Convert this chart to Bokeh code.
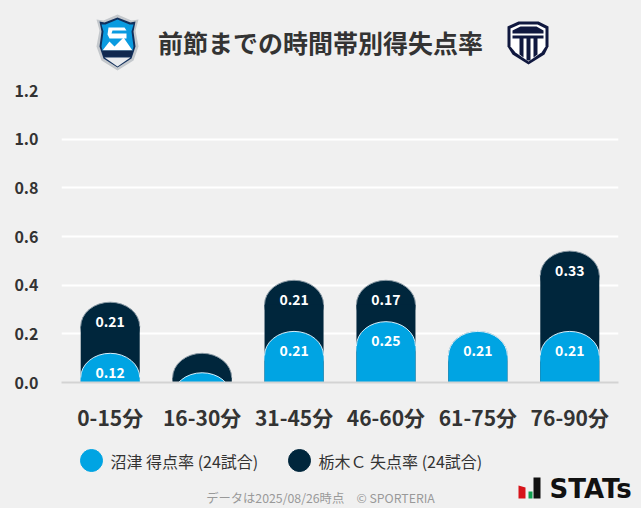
from bokeh.core.properties import value
from bokeh.embed import file_html
from bokeh.layouts import column
from bokeh.models import FactorRange, PrintfTickFormatter, Range1d
from bokeh.plotting import figure
from bokeh.resources import INLINE

JP = "Noto Sans CJK JP"
BG = "#f0f0f0"
BLUE = "#00a4e3"
NAVY = "#00263c"

# values
periods = ["0-15分", "16-30分", "31-45分", "46-60分", "61-75分", "76-90分"]
numazu_scored = [0.12, 0.04, 0.21, 0.25, 0.21, 0.21]
tochigi_conceded = [0.21, 0.08, 0.21, 0.17, 0.0, 0.33]
y_ticks = [0.0, 0.2, 0.4, 0.6, 0.8, 1.0, 1.2]

title_text = "前節までの時間帯別得失点率"
legend_labels = ["沼津 得点率 (24試合)", "栃木Ｃ 失点率 (24試合)"]
footer_text = "データは2025/08/26時点　© SPORTERIA"

# stacked tops, navy sits behind the blue column
totals = [round(a + b, 2) for a, b in zip(numazu_scored, tochigi_conceded)]


def strip(y0, y1):
    # no-axis figure whose data coordinates are the page's pixels
    f = figure(width=641, height=y1 - y0, output_backend="svg", toolbar_location=None,
               x_range=Range1d(0, 641), y_range=Range1d(y1, y0), x_axis_location=None,
               y_axis_location=None, background_fill_color=BG, border_fill_color=BG,
               outline_line_color=None, min_border=0, frame_align=False)
    f.grid.visible = False
    return f


def shape(f, pts, color):
    f.patch([a for a, b in pts], [b for a, b in pts], fill_color=color, line_color=None)


# header: crests and title
head = strip(0, 76)
head.text(x=[320], y=[41], text=[title_text], text_font=value(JP), text_font_size="25px",
          text_font_style="bold", text_color="#333333", text_align="center", text_baseline="middle")
shape(head, [(117, 14), (131, 20), (138, 19), (135, 30), (138, 46), (133, 60), (117, 70), (101, 60), (96, 46), (99, 30), (96, 19), (103, 20)], "#c4c8cc")
shape(head, [(117, 17), (130, 22), (135, 21), (133, 31), (135, 46), (131, 58), (117, 67), (103, 58), (99, 46), (101, 31), (99, 21), (104, 22)], "#12305c")
shape(head, [(117, 19), (129, 24), (133, 24), (131, 31), (133, 46), (132, 50), (102, 50), (101, 46), (103, 31), (101, 24), (105, 24)], "#0a9be0")
shape(head, [(102, 50), (109, 41), (114, 46), (123, 37), (132, 50)], "#ffffff")
shape(head, [(108, 27), (124, 27), (126, 30), (112, 30), (111, 33), (126, 33), (126, 38), (109, 38), (107, 34)], "#ffffff")
shape(head, [(102, 50), (132, 50), (131, 56), (103, 56)], "#10284f")
shape(head, [(104, 57), (130, 57), (117, 66)], "#e9ebee")
shape(head, [(507, 26), (518, 21), (538, 21), (548, 26), (548, 46), (544, 54), (528, 64), (512, 54), (507, 46)], "#10183f")
shape(head, [(510, 28), (519, 24), (537, 24), (545, 28), (545, 46), (541, 52), (528, 61), (515, 52), (510, 46)], "#ffffff")
shape(head, [(512, 30), (520, 26), (536, 26), (543, 30), (543, 33), (512, 33)], "#10183f")
shape(head, [(512, 35), (543, 35), (543, 38), (537, 38), (537, 54), (533, 57), (533, 38), (530, 38), (530, 60), (526, 60), (526, 38), (523, 38), (523, 57), (519, 54), (519, 38), (512, 38)], "#10183f")

# chart
p = figure(width=641, height=360, output_backend="svg", toolbar_location=None,
           x_range=FactorRange(factors=periods, range_padding=0.01),
           y_range=Range1d(0, 1.2), frame_align=False,
           background_fill_color=BG, border_fill_color=BG, outline_line_color=None,
           min_border_left=61, min_border_right=23, min_border_top=14, min_border_bottom=54)

# column = flat body + ellipse cap, the frame cuts the caps of very short columns
bar_w = 0.642
cap = 0.1


def bars(tops, color, edge):
    p.ellipse(x=periods, y=[t - cap for t in tops], width=bar_w, height=2 * cap, fill_color=color,
              line_color=edge, line_width=1)
    p.vbar(x=periods, top=[max(t - cap, 0) for t in tops], bottom=0, width=bar_w, color=color,
           line_color=None)


bars(totals, NAVY, "#8a9aa5")
bars(numazu_scored, BLUE, "#d5eefa")

# value labels, small columns have none
lab_x = [c for c, v in zip(periods, tochigi_conceded) if v >= 0.1]
lab_y = [t for t, v in zip(totals, tochigi_conceded) if v >= 0.1]
lab_t = ["%.2f" % v for v in tochigi_conceded if v >= 0.1]
lab_x += [c for c, v in zip(periods, numazu_scored) if v >= 0.1]
lab_y += [v for v in numazu_scored if v >= 0.1]
lab_t += ["%.2f" % v for v in numazu_scored if v >= 0.1]
p.text(x=lab_x, y=lab_y, text=lab_t, y_offset=19, text_color="#ffffff",
       text_font=value(JP), text_font_style="bold", text_font_size="14px",
       text_align="center", text_baseline="middle")

p.xgrid.visible = False
p.ygrid.grid_line_color = "#ffffff"
p.ygrid.grid_line_width = 2
p.yaxis.ticker = y_ticks
p.yaxis.formatter = PrintfTickFormatter(format="%.1f")
p.yaxis.axis_line_color = None
p.yaxis.major_tick_line_color = None
p.yaxis.minor_tick_line_color = None
p.yaxis.major_label_standoff = 17
p.yaxis.major_label_text_font = JP
p.yaxis.major_label_text_font_style = "bold"
p.yaxis.major_label_text_font_size = "16px"
p.yaxis.major_label_text_color = "#333333"
p.xaxis.axis_line_color = "#d3d3d3"
p.xaxis.axis_line_width = 2
p.xaxis.major_tick_line_color = None
p.xaxis.minor_tick_line_color = None
p.xaxis.major_label_standoff = 13
p.xaxis.major_label_text_font = JP
p.xaxis.major_label_text_font_style = "bold"
p.xaxis.major_label_text_font_size = "21px"
p.xaxis.major_label_text_color = "#333333"

# footer: legend (Legend can't sit text this close to big swatches), source note, STATs mark
foot = strip(436, 508)
foot.scatter(x=[91, 299], y=[460, 460], size=22, color=[BLUE, NAVY])
foot.text(x=[110, 318], y=[460, 460], text=legend_labels, text_font=value(JP), text_font_size="16px",
          text_color="#333333", text_align="left", text_baseline="middle")
foot.text(x=[320], y=[497], text=[footer_text], text_font=value(JP), text_font_size="12.3px",
          text_color="#999999", text_align="center", text_baseline="middle")
shape(foot, [(518, 485), (525, 487), (525, 498), (518, 498)], "#d7141a")
shape(foot, [(528, 491), (532, 491), (532, 498), (528, 498)], "#0e9f4f")
shape(foot, [(533, 477), (540, 477), (540, 498), (533, 498)], "#111111")
foot.text(x=[549], y=[488], text=["STATs"], text_font=value("DejaVu Sans"), text_font_size="26px",
          text_font_style="bold", text_color="#111111", text_align="left", text_baseline="middle")

page = column(head, p, foot, spacing=0)
html = file_html(page, INLINE).replace("</head>", "<style>html, body { background: #f0f0f0; }</style></head>")
open("out.html", "w").write(html)
